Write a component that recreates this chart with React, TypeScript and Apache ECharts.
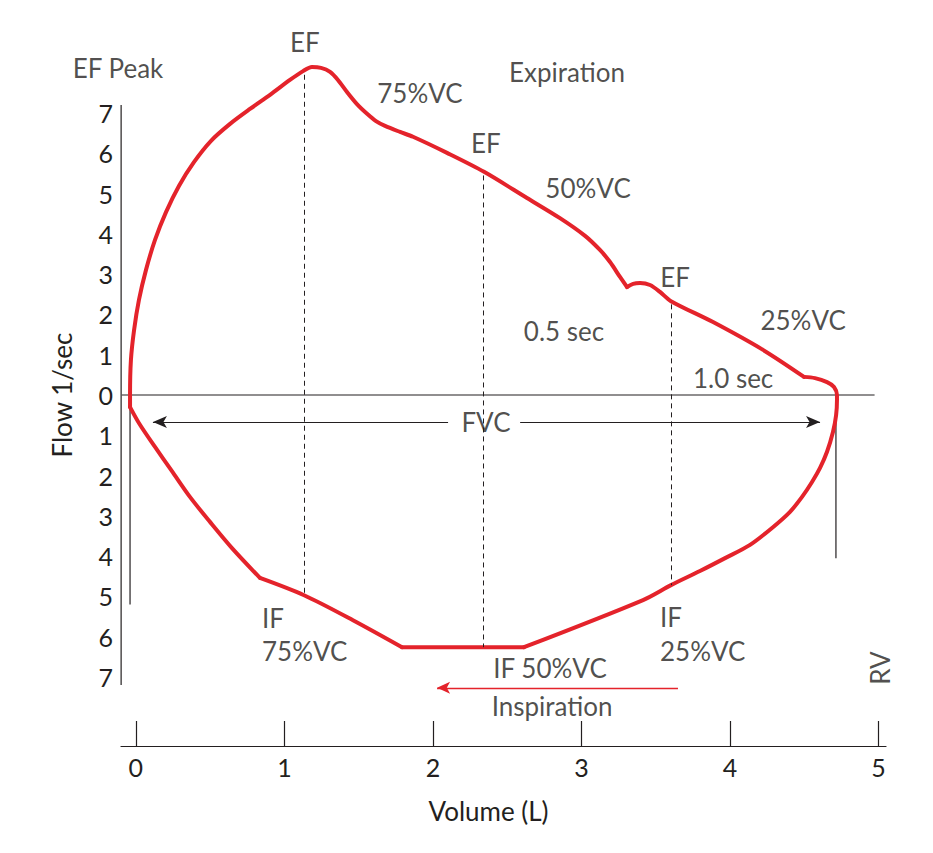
import React, { useEffect, useRef } from "react";
import * as echarts from "echarts";

// Axis ticks
const volumeTicks = [0, 1, 2, 3, 4, 5];
const flowTicks = [-7, -6, -5, -4, -3, -2, -1, 0, 1, 2, 3, 4, 5, 6, 7];

// Flow-volume loop, traced clockwise: expiration on top, inspiration below
const loopVolume = [
  -0.04, -0.04, -0.034, -0.013, 0.02, 0.067, 0.128, 0.202, 0.289, 0.39, 0.505, 0.633, 0.767, 0.902,
  1.036, 1.124, 1.184, 1.245, 1.306, 1.359, 1.42, 1.487, 1.555, 1.615, 1.676, 1.777, 1.864, 2.093,
  2.342, 2.631, 2.853, 3.022, 3.122, 3.19, 3.257, 3.304, 3.345, 3.392, 3.459, 3.526, 3.6, 3.883,
  4.219, 4.495, 4.569, 4.65, 4.697, 4.717, 4.717, 4.711, 4.69, 4.65, 4.603, 4.549, 4.482, 4.401,
  4.28, 4.132, 3.964, 3.795, 3.6, 3.412, 2.611, 1.79, 1.46, 1.131, 0.834, 0.646, 0.498, 0.363,
  0.242, 0.128, 0.027, -0.04,
];
const loopFlow = [
  -0.3, 0.0, 0.87, 1.61, 2.36, 3.1, 3.85, 4.54, 5.19, 5.78, 6.31, 6.73, 7.1, 7.45, 7.82, 8.04, 8.14,
  8.12, 8.02, 7.82, 7.52, 7.22, 6.98, 6.8, 6.68, 6.53, 6.41, 6.01, 5.54, 4.89, 4.39, 3.95, 3.6, 3.3,
  2.93, 2.68, 2.76, 2.78, 2.73, 2.56, 2.33, 1.81, 1.12, 0.45, 0.42, 0.32, 0.2, 0.0, -0.12, -0.5,
  -0.92, -1.41, -1.81, -2.16, -2.53, -2.9, -3.3, -3.72, -4.05, -4.37, -4.72, -5.09, -6.26, -6.26,
  -5.59, -4.97, -4.54, -3.8, -3.15, -2.53, -1.89, -1.29, -0.74, -0.3,
];
// Indices where the loop has a sharp corner; the curve is smoothed between them
const loopCorners = [0, 35, 43, 62, 63, 66, 73];

// Dashed guides at 75%, 50% and 25% VC (volume, top flow, bottom flow)
const markerVolume = [1.13, 2.34, 3.6];
const markerTop = [7.95, 5.45, 2.25];
const markerBottom = [-4.97, -6.26, -4.72];

// Frame lines: flow axis, zero-flow line, start-of-test baseline, residual volume (RV)
const flowAxisLine = { volume: -0.1, from: -7.2, to: 7.2 };
const zeroLine = { flow: 0, from: -0.095, to: 4.97 };
const baseLeft = { volume: -0.04, from: 0, to: -5.2 };
const rvLine = { volume: 4.71, from: 0, to: -4.05 };

// FVC span, drawn as two arrows either side of its label
const fvc = { flow: -0.67, start: 0.114, gapStart: 2.1, gapEnd: 2.585, end: 4.603 };
// Inspiration direction arrow
const inspiration = { flow: -7.27, tip: 2.026, tail: 3.647 };

type Note = { text: string; volume: number; flow: number; align?: string; rotate?: number };
const annotations: Note[] = [
  { text: "EF", volume: 1.137, flow: 8.76 },
  { text: "EF Peak", volume: -0.121, flow: 8.12 },
  { text: "75%VC", volume: 1.911, flow: 7.5 },
  { text: "Expiration", volume: 2.9, flow: 8.02 },
  { text: "EF", volume: 2.355, flow: 6.26 },
  { text: "50%VC", volume: 3.042, flow: 5.14 },
  { text: "EF", volume: 3.627, flow: 2.93 },
  { text: "25%VC", volume: 4.489, flow: 1.86 },
  { text: "0.5 sec", volume: 2.88, flow: 1.59 },
  { text: "1.0 sec", volume: 4.018, flow: 0.42 },
  { text: "FVC", volume: 2.355, flow: -0.67 },
  { text: "IF", volume: 0.848, flow: -5.54, align: "left" },
  { text: "75%VC", volume: 0.848, flow: -6.36, align: "left" },
  { text: "IF", volume: 3.526, flow: -5.51, align: "left" },
  { text: "25%VC", volume: 3.526, flow: -6.36, align: "left" },
  { text: "IF 50%VC", volume: 2.786, flow: -6.78 },
  { text: "Inspiration", volume: 2.8, flow: -7.72 },
  { text: "RV", volume: 5.007, flow: -6.78, rotate: 90 },
];

const RED = "#e4232b";
const INK = "#231f20";
const FONT = "Lato, 'Open Sans', sans-serif";
const FS = 26;
const TICK_FS = 25;

export default function App() {
  const ref = useRef<HTMLDivElement>(null);

  useEffect(() => {
    if (!ref.current) return;
    const chart = echarts.init(ref.current, undefined, { renderer: "svg" });

    const thin = { color: INK, width: 1.2 };
    const plain = (name: string, data: number[][], lineStyle: object, extra: object = {}) => ({
      name,
      type: "line",
      xAxisIndex: 0,
      yAxisIndex: 0,
      data,
      symbol: "none",
      clip: false,
      silent: true,
      lineStyle,
      ...extra,
    });

    const loopSegments = loopCorners.slice(0, -1).map((start, k) => {
      const end = loopCorners[k + 1];
      const pts: number[][] = [];
      for (let i = start; i <= end; i++) pts.push([loopVolume[i], loopFlow[i]]);
      return plain("loop", pts, { color: RED, width: 4, join: "round", cap: "round" }, { smooth: 0.3 });
    });

    chart.setOption({
      animation: false,
      backgroundColor: "#ffffff",
      textStyle: { fontFamily: FONT, color: INK },
      grid: [
        // volume -0.3..5.1 and flow -9.2..9.2 leave room for notes around the loop
        { left: 91.4, right: 39.1, top: 24.4, bottom: 87.4 },
        { left: 121, right: 47, top: 700, bottom: 107 },
      ],
      xAxis: [
        {
          gridIndex: 0,
          type: "value",
          min: -0.3,
          max: 5.1,
          show: false,
        },
        {
          gridIndex: 1,
          type: "value",
          min: -0.1,
          max: 5.05,
          axisLine: { show: true, lineStyle: thin },
          axisTick: { show: true, inside: true, length: 25, lineStyle: thin, customValues: volumeTicks },
          axisLabel: {
            customValues: volumeTicks,
            margin: 8,
            fontSize: TICK_FS,
            fontFamily: FONT,
            color: INK,
          },
          splitLine: { show: false },
          name: "Volume (L)",
          nameLocation: "middle",
          nameGap: 52,
          nameTextStyle: { fontSize: FS, fontFamily: FONT, color: INK, padding: [0, 30, 0, 0] },
        },
      ],
      yAxis: [
        {
          gridIndex: 0,
          type: "value",
          min: -9.2,
          max: 9.2,
          offset: -29.6,
          axisLine: { show: false },
          axisTick: { show: false },
          axisLabel: {
            customValues: flowTicks,
            formatter: (v: number) => String(Math.abs(Math.round(v))),
            margin: 8,
            fontSize: TICK_FS,
            fontFamily: FONT,
            color: INK,
          },
          splitLine: { show: false },
          name: "Flow 1/sec",
          nameLocation: "middle",
          nameRotate: 90,
          nameGap: 46,
          nameTextStyle: { fontSize: FS, fontFamily: FONT, color: INK },
        },
        { gridIndex: 1, type: "value", min: 0, max: 1, show: false },
      ],
      series: [
        plain(
          "flowAxis",
          [
            [flowAxisLine.volume, flowAxisLine.from],
            [flowAxisLine.volume, flowAxisLine.to],
          ],
          thin
        ),
        plain(
          "zero",
          [
            [zeroLine.from, zeroLine.flow],
            [zeroLine.to, zeroLine.flow],
          ],
          thin
        ),
        plain(
          "baseline",
          [
            [baseLeft.volume, baseLeft.from],
            [baseLeft.volume, baseLeft.to],
          ],
          thin,
          {
            markLine: {
              silent: true,
              symbol: ["arrow", "none"],
              symbolSize: [9, 14],
              label: { show: false },
              lineStyle: { color: INK, width: 1.2, type: "solid" },
              data: [
                [{ coord: [fvc.start, fvc.flow] }, { coord: [fvc.gapStart, fvc.flow] }],
                [{ coord: [fvc.end, fvc.flow] }, { coord: [fvc.gapEnd, fvc.flow] }],
              ],
            },
          }
        ),
        plain(
          "rv",
          [
            [rvLine.volume, rvLine.from],
            [rvLine.volume, rvLine.to],
          ],
          thin,
          {
            markLine: {
              silent: true,
              symbol: ["none", "none"],
              label: { show: false },
              lineStyle: { color: INK, width: 1, type: [5, 4] },
              data: markerVolume.map((v, i) => [{ coord: [v, markerTop[i]] }, { coord: [v, markerBottom[i]] }]),
            },
          }
        ),
        ...loopSegments,
        plain("inspiration", [], { color: RED, width: 0 }, {
          markLine: {
            silent: true,
            symbol: ["arrow", "none"],
            symbolSize: [9, 13],
            label: { show: false },
            lineStyle: { color: RED, width: 1.3, type: "solid" },
            data: [[{ coord: [inspiration.tip, inspiration.flow] }, { coord: [inspiration.tail, inspiration.flow] }]],
          },
        }),
        {
          name: "notes",
          type: "scatter",
          xAxisIndex: 0,
          yAxisIndex: 0,
          symbolSize: 1,
          clip: false,
          silent: true,
          itemStyle: { color: "rgba(0,0,0,0)" },
          label: {
            show: true,
            position: "inside",
            formatter: "{b}",
            fontSize: FS,
            fontFamily: FONT,
            color: INK,
          },
          data: annotations.map((a) => ({
            name: a.text,
            value: [a.volume, a.flow],
            label: { align: a.align || "center", verticalAlign: "middle", rotate: a.rotate || 0 },
          })),
        },
      ],
    });

    return () => chart.dispose();
  }, []);

  return (
    <div
      ref={ref}
      style={{ position: "fixed", left: 0, top: 0, width: 933, height: 853, background: "#fff" }}
    />
  );
}
